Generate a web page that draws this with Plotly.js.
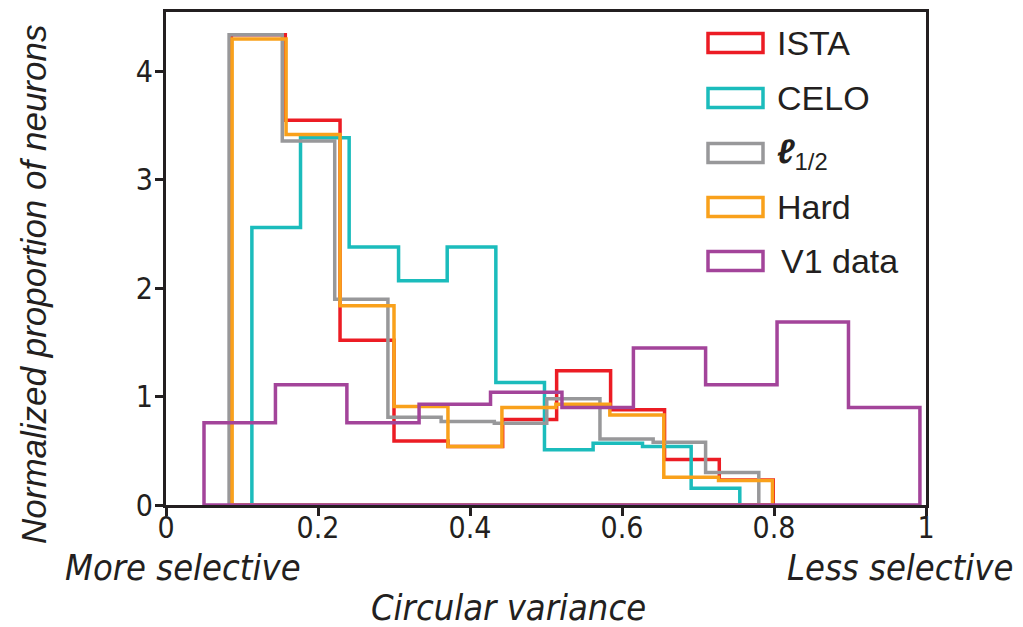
<!DOCTYPE html>
<html>
<head>
<meta charset="utf-8">
<script src="https://cdn.plot.ly/plotly-3.0.1.min.js"></script>
<style>html,body{margin:0;padding:0;background:#fff;}#chart{width:1023px;height:627px;}</style>
</head>
<body>
<div id="chart"></div>
<script>
// Series names (legend order, later drawn on top)
const seriesNames = ["ISTA", "CELO", "ℓ1/2", "Hard", "V1 data"];
const legendLabels = ["ISTA", "CELO", "<b><i>ℓ</i></b><sub>1/2</sub>", "Hard", "V1 data"];
const seriesColors = ["#ec1c24", "#1bbcbc", "#98989a", "#f9a11b", "#a3449a"];

// Bin edges (circular variance)
const istaEdges = [0.086, 0.157, 0.229, 0.300, 0.371, 0.443, 0.514, 0.585, 0.656, 0.728, 0.799];
const celoEdges = [0.113, 0.177, 0.241, 0.306, 0.370, 0.434, 0.498, 0.562, 0.627, 0.691, 0.755];
const l12Edges  = [0.083, 0.153, 0.222, 0.292, 0.362, 0.432, 0.501, 0.571, 0.641, 0.710, 0.780];
const hardEdges = [0.087, 0.158, 0.229, 0.300, 0.371, 0.442, 0.513, 0.584, 0.655, 0.727, 0.798];
const v1Edges   = [0.050, 0.144, 0.238, 0.333, 0.427, 0.521, 0.615, 0.710, 0.804, 0.898, 0.992];

// Normalized proportion per bin
const istaValues = [4.34, 3.55, 1.52, 0.59, 0.54, 0.79, 1.24, 0.88, 0.42, 0.23];
const celoValues = [2.56, 3.39, 2.38, 2.07, 2.38, 1.13, 0.51, 0.57, 0.54, 0.155];
const l12Values  = [4.34, 3.36, 1.90, 0.81, 0.77, 0.755, 0.98, 0.61, 0.58, 0.30];
const hardValues = [4.30, 3.42, 1.84, 0.91, 0.54, 0.90, 0.93, 0.83, 0.255, 0.225];
const v1Values   = [0.76, 1.11, 0.76, 0.93, 1.04, 0.90, 1.45, 1.11, 1.69, 0.90];

// Axis ticks
const xTickVals = [0, 0.2, 0.4, 0.6, 0.8, 1];
const xTickText = ["0", "0.2", "0.4", "0.6", "0.8", "1"];
const yTickVals = [0, 1, 2, 3, 4];
const yTickText = ["0", "1", "2", "3", "4"];

const allEdges = [istaEdges, celoEdges, l12Edges, hardEdges, v1Edges];
const allValues = [istaValues, celoValues, l12Values, hardValues, v1Values];

function stepOutline(edges, vals) {
  const x = [edges[0]], y = [0];
  for (let i = 0; i < vals.length; i++) {
    x.push(edges[i], edges[i + 1]);
    y.push(vals[i], vals[i]);
  }
  x.push(edges[edges.length - 1], edges[0]);
  y.push(0, 0);
  return {x, y};
}

const traces = seriesNames.map((name, i) => {
  const p = stepOutline(allEdges[i], allValues[i]);
  return {
    type: "scatter", mode: "lines", name: name,
    x: p.x, y: p.y,
    line: {color: seriesColors[i], width: 3.5, shape: "linear"},
    showlegend: false, hoverinfo: "skip"
  };
});

const axisColor = "#231f20";
const narrow = "'Liberation Sans Narrow', 'DejaVu Sans Condensed', Arial, sans-serif";
const helv = "'Liberation Sans', Arial, sans-serif";

// Manual legend (outlined boxes)
const legendY = [43, 98, 153, 207, 261]; // pixel centres
const plotTop = 12, plotBottom = 505, plotLeft = 166, plotRight = 926;
const pw = plotRight - plotLeft, ph = plotBottom - plotTop;
const shapes = [], annotations = [];
seriesNames.forEach((n, i) => {
  const cy = (plotBottom - legendY[i]) / ph;
  shapes.push({type: "rect", xref: "paper", yref: "paper",
    x0: (708 - plotLeft) / pw, x1: (763 - plotLeft) / pw,
    y0: cy - 9.5 / ph, y1: cy + 9.5 / ph,
    line: {color: seriesColors[i], width: 3.5}, fillcolor: "rgba(0,0,0,0)"});
  annotations.push({xref: "paper", yref: "paper", x: ((i === 4 ? 779 : 775) - plotLeft) / pw, y: cy + (i === 2 ? -1 / ph : 0),
    xanchor: "left", yanchor: "middle", showarrow: false, text: legendLabels[i],
    font: {family: helv, size: 34, color: "#231f20"}});
});

annotations.push({xref: "paper", yref: "paper", x: (33 - plotLeft) / pw, y: (plotBottom - 285) / ph,
  textangle: -90, showarrow: false, xanchor: "center", yanchor: "middle",
  text: "Normalized proportion of neurons",
  font: {family: helv, size: 35, style: "italic", color: "#231f20"}});
annotations.push({xref: "paper", yref: "paper", x: (183 - plotLeft) / pw, y: (plotBottom - 567) / ph,
  showarrow: false, xanchor: "center", yanchor: "middle", text: "More selective",
  font: {family: narrow, size: 36, style: "italic", color: "#231f20"}});
annotations.push({xref: "paper", yref: "paper", x: (900 - plotLeft) / pw, y: (plotBottom - 567) / ph,
  showarrow: false, xanchor: "center", yanchor: "middle", text: "Less selective",
  font: {family: narrow, size: 36, style: "italic", color: "#231f20"}});
annotations.push({xref: "paper", yref: "paper", x: (508 - plotLeft) / pw, y: (plotBottom - 607) / ph,
  showarrow: false, xanchor: "center", yanchor: "middle", text: "Circular variance",
  font: {family: narrow, size: 36, style: "italic", color: "#231f20"}});

const layout = {
  width: 1023, height: 627,
  margin: {l: plotLeft, r: 1023 - plotRight, t: plotTop, b: 627 - plotBottom, pad: 0},
  paper_bgcolor: "#fff", plot_bgcolor: "#fff",
  showlegend: false,
  xaxis: {range: [0, 1], tickvals: xTickVals, ticktext: xTickText, ticks: "outside", ticklen: 8,
    tickwidth: 3, tickcolor: axisColor, showline: true, linecolor: axisColor, linewidth: 3,
    mirror: true, showgrid: false, zeroline: false, ticklabelstandoff: -14,
    tickfont: {family: narrow, size: 30, color: axisColor}},
  yaxis: {range: [0, 4.55], tickvals: yTickVals, ticktext: yTickText, ticks: "outside", ticklen: 8,
    tickwidth: 3, tickcolor: axisColor, showline: true, linecolor: axisColor, linewidth: 3,
    mirror: true, showgrid: false, zeroline: false, ticklabelstandoff: -4,
    tickfont: {family: narrow, size: 30, color: axisColor}},
  shapes: shapes, annotations: annotations
};

Plotly.newPlot("chart", traces, layout, {displayModeBar: false, staticPlot: true});
</script>
</body>
</html>
